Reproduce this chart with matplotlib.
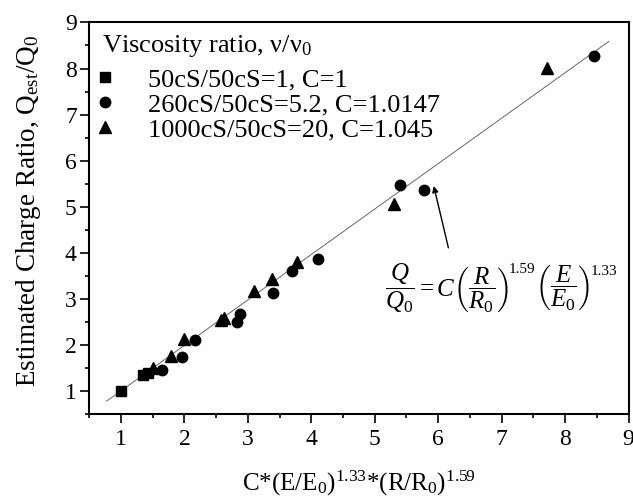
import numpy as np
import matplotlib
matplotlib.use("Agg")
import matplotlib.pyplot as plt
from matplotlib.ticker import MultipleLocator

# === Data ===
# 50cS/50cS = 1, C = 1
sq_x = [1.00, 1.35, 1.43]
sq_y = [1.00, 1.36, 1.40]
# 260cS/50cS = 5.2, C = 1.0147
ci_x = [1.65, 1.96, 2.17, 2.83, 2.88, 3.40, 3.70, 4.11, 5.39, 5.78, 8.45]
ci_y = [1.46, 1.75, 2.11, 2.50, 2.68, 3.13, 3.60, 3.86, 5.48, 5.36, 8.27]
# 1000cS/50cS = 20, C = 1.045
tr_x = [1.50, 1.79, 1.99, 2.58, 2.63, 3.10, 3.38, 3.77, 5.30, 7.72]
tr_y = [1.51, 1.77, 2.14, 2.54, 2.59, 3.17, 3.44, 3.81, 5.05, 8.01]

labels = ["50cS/50cS=1, C=1",
          "260cS/50cS=5.2, C=1.0147",
          "1000cS/50cS=20, C=1.045"]

# fit line
fit_x = [0.77, 8.69]
fit_y = [0.78, 8.59]

# arrow from the equation to the points
arrow_tail = (6.16, 4.11)
arrow_tip = (5.93, 5.45)

plt.rcParams['font.family'] = ['Liberation Serif', 'DejaVu Serif']
plt.rcParams['mathtext.fontset'] = 'custom'
plt.rcParams['mathtext.rm'] = 'Liberation Serif'
plt.rcParams['mathtext.it'] = 'Liberation Serif:italic'
plt.rcParams['mathtext.bf'] = 'Liberation Serif:bold'

fig = plt.figure(figsize=(6.33, 4.99), dpi=100)
ax = fig.add_axes([0.141, 0.170, 0.852, 0.785])

ax.plot(fit_x, fit_y, color='#666666', lw=0.7, zorder=1)
ax.plot(sq_x, sq_y, 's', color='black', ms=7, ls='none', label=labels[0])
ax.plot(ci_x, ci_y, 'o', color='black', ms=7.5, ls='none', label=labels[1])
ax.plot(tr_x, tr_y, '^', color='black', ms=8, ls='none', label=labels[2])

ax.set_xlim(0.5, 9)
ax.set_ylim(0.5, 9)
ax.xaxis.set_minor_locator(MultipleLocator(0.5))
ax.yaxis.set_minor_locator(MultipleLocator(0.5))
ax.set_xticks(np.arange(1, 10))
ax.set_yticks(np.arange(1, 10))
ax.tick_params(which='major', direction='out', length=6.5, width=1.2, labelsize=17)
ax.tick_params(which='minor', direction='out', length=3, width=1.2)
ax.tick_params(axis='x', which='major', pad=4.5)
ax.tick_params(axis='y', which='major', pad=2.5)
for s in ax.spines.values():
    s.set_linewidth(1.5)

ax.set_xlabel(r'C*(E/E$_0$)$^{1.33}$*(R/R$_0$)$^{1.59}$', fontsize=18, labelpad=13)
ax.set_ylabel(r'Estimated Charge Ratio, Q$_{\mathrm{est}}$/Q$_{\mathrm{0}}$', fontsize=19.5)
ax.yaxis.set_label_coords(-0.086, 0.52)

ax.text(0.023, 0.925, r'Viscosity ratio, ν/ν$_0$', transform=ax.transAxes,
        fontsize=19, ha='left', va='baseline')
ax.legend(loc='upper left', bbox_to_anchor=(0.0145, 0.885),
          frameon=False, fontsize=19, handlelength=0.6, handletextpad=1.34,
          labelspacing=0.07, borderaxespad=0, borderpad=0)

# equation, built in pieces so the exponents stay small
t1 = ax.text(5.16, 3.23, r'$\dfrac{Q}{Q_0}=C\left(\dfrac{R}{R_0}\right)$',
             fontsize=18, ha='left', va='center')
t2 = ax.annotate('1.59', xy=(1, 1), xycoords=t1, xytext=(0, -1),
                 textcoords='offset points', fontsize=11, ha='left', va='top')
t3 = ax.annotate(r'$\left(\dfrac{E}{E_0}\right)$', xy=(1, 0.5), xycoords=(t2, t1),
                 fontsize=18, ha='left', va='center')
t4 = ax.annotate('1.33', xy=(1, 1), xycoords=t3, xytext=(0, -1),
                 textcoords='offset points', fontsize=11, ha='left', va='top')

ax.annotate('', xy=arrow_tip, xytext=arrow_tail,
            arrowprops=dict(arrowstyle='-|>', color='black', lw=1,
                            mutation_scale=9, shrinkA=0, shrinkB=0))

fig.savefig('out.png', dpi=100)
